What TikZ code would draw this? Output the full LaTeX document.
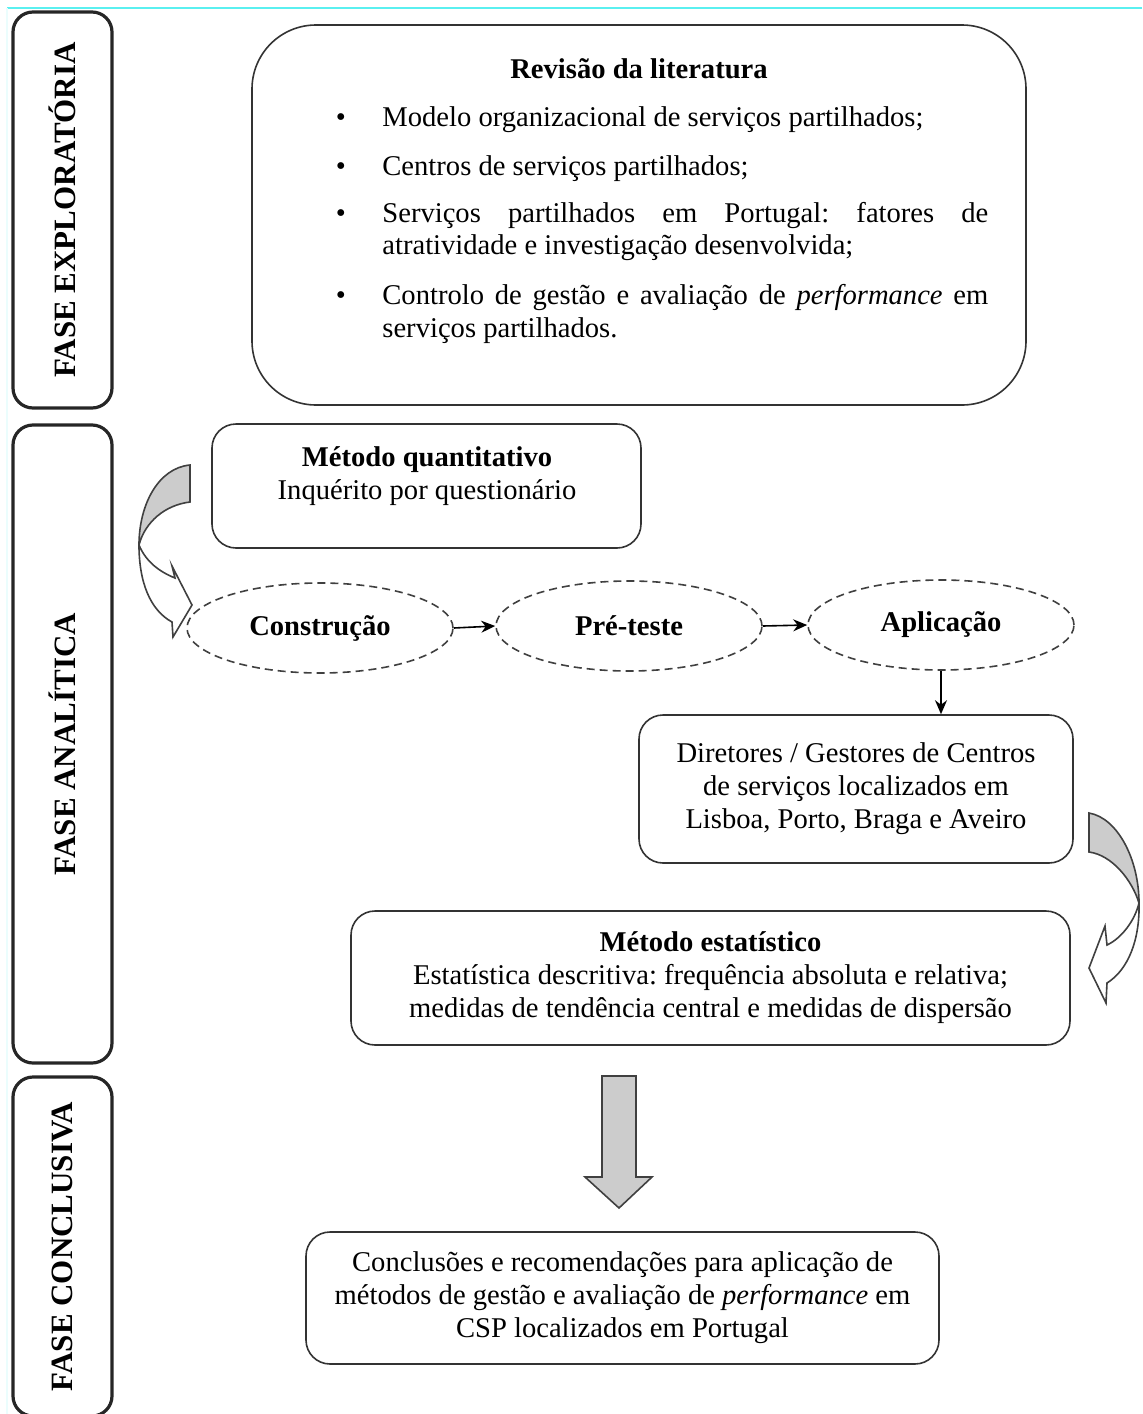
\documentclass[tikz,border=0pt]{standalone}
\usepackage{fontspec}
\setmainfont{Liberation Serif}
\usetikzlibrary{shapes.geometric,arrows.meta}
\definecolor{guide}{RGB}{90,240,240}
\begin{document}
\frenchspacing
\begin{tikzpicture}[x=0.5pt,y=-0.5pt,
  font=\fontsize{14.3}{16.5}\selectfont,
  phasebox/.style={draw=black!85, line width=1.6pt, rounded corners=10pt, rotate=90,
    minimum height=49.5pt, inner sep=0pt, font=\fontsize{15.5}{16.5}\selectfont\bfseries},
  panel/.style={draw=black!80, line width=0.8pt, rounded corners=12pt, inner sep=0pt, align=center},
  stage/.style={ellipse, draw=black!75, line width=0.8pt, dash pattern=on 4pt off 2.5pt,
    minimum width=133pt, minimum height=45pt, inner sep=0pt, font=\fontsize{14.3}{16.5}\selectfont\bfseries},
  flow/.style={-{Stealth[length=7pt,width=6pt]}, line width=0.8pt},
  blockarrow/.style={draw=black!75, fill=black!20, line width=0.8pt, line join=miter},
  hollowarrow/.style={draw=black!75, fill=white, line width=0.8pt, line join=miter},
  itemtext/.style={anchor=base west, inner sep=0pt},
  dot/.style={anchor=base, inner sep=0pt}]

\useasboundingbox (0,0) rectangle (1142,1414);

% page guide lines
\draw[guide, line width=1pt] (7,8) -- (1142,8);
\draw[guide!12, line width=0.6pt] (7,8) -- (7,1414);

% phase labels
\node[phasebox, minimum width=198pt] (fexp) at (62.5,210) {FASE EXPLORATÓRIA};
\node[phasebox, minimum width=319pt] (fana) at (62.5,744) {FASE ANALÍTICA};
\node[phasebox, minimum width=169.5pt] (fcon) at (62.5,1246.5) {FASE CONCLUSIVA};

% literature review
\node[panel, rounded corners=32pt, minimum width=387pt, minimum height=190pt] (rev) at (639,215) {};
\node[dot, font=\fontsize{14.3}{16.5}\selectfont\bfseries] (revt) at (639,78) {Revisão da literatura};
\node[dot] (b1) at (341,126) {\textbullet};
\node[itemtext] (i1) at (382,126) {Modelo organizacional de serviços partilhados;};
\node[dot] (b2) at (341,175) {\textbullet};
\node[itemtext] (i2) at (382,175) {Centros de serviços partilhados;};
\node[dot] (b3) at (341,222) {\textbullet};
\node[itemtext] (i3a) at (382,222) {\makebox[303pt][s]{Serviços partilhados em Portugal: fatores de}};
\node[itemtext] (i3b) at (382,254) {atratividade e investigação desenvolvida;};
\node[dot] (b4) at (341,304) {\textbullet};
\node[itemtext] (i4a) at (382,304) {\makebox[303pt][s]{Controlo de gestão e avaliação de \emph{performance} em}};
\node[itemtext] (i4b) at (382,337) {serviços partilhados.};

% quantitative method
\node[panel, minimum width=214.5pt, minimum height=62pt] (quant) at (426.5,486) {};
\node[dot, font=\fontsize{14.3}{16.5}\selectfont\bfseries] (quantt) at (427,466) {Método quantitativo};
\node[dot] (quants) at (427,499) {Inquérito por questionário};

% questionnaire stages
\node[stage] (cons) at (320,628) {Construção};
\node[stage] (pre) at (629,626) {Pré-teste};
\node[stage] (apl) at (941,625) {Aplicação};
\draw[flow] (cons.east) -- (pre.west);
\draw[flow] (pre.east) -- (apl.west);

% respondents
\node[panel, minimum width=217pt, minimum height=74pt] (dir) at (856,789)
  {Diretores / Gestores de Centros\\de serviços localizados em\\Lisboa, Porto, Braga e Aveiro};
\draw[flow] (apl.south) -- (apl.south |- dir.north);

% statistical method
\node[panel, minimum width=359.5pt, minimum height=67pt] (est) at (710.5,978)
  {\textbf{Método estatístico}\\Estatística descritiva: frequência absoluta e relativa;\\medidas de tendência central e medidas de dispersão};

% conclusions
\node[panel, minimum width=316.5pt, minimum height=66pt] (conc) at (622.5,1298)
  {Conclusões e recomendações para aplicação de\\métodos de gestão e avaliação de \emph{performance} em\\CSP localizados em Portugal};

% curved block arrow, left
\draw[blockarrow] (190,465) .. controls (158,468) and (139,505) .. (139,545)
  .. controls (145,522) and (165,505) .. (190,502) -- cycle;
\draw[hollowarrow] (139,545) .. controls (146,562) and (160,572) .. (175,578)
  -- (172,566) -- (192,605) -- (173,637) -- (172,622)
  .. controls (150,610) and (139,582) .. (139,545) -- cycle;

% curved block arrow, right
\draw[blockarrow] (1089,813) .. controls (1118,818) and (1139,860) .. (1139,903)
  .. controls (1132,880) and (1112,855) .. (1089,852) -- cycle;
\draw[hollowarrow] (1139,903) .. controls (1135,920) and (1122,938) .. (1107,945)
  -- (1105,926) -- (1089,968) -- (1106,1003) -- (1107,983)
  .. controls (1128,970) and (1140,940) .. (1139,903) -- cycle;

% straight block arrow
\draw[blockarrow] (602,1076) -- (636,1076) -- (636,1177) -- (652,1177)
  -- (619,1208) -- (585,1177) -- (602,1177) -- cycle;

\end{tikzpicture}
\end{document}
